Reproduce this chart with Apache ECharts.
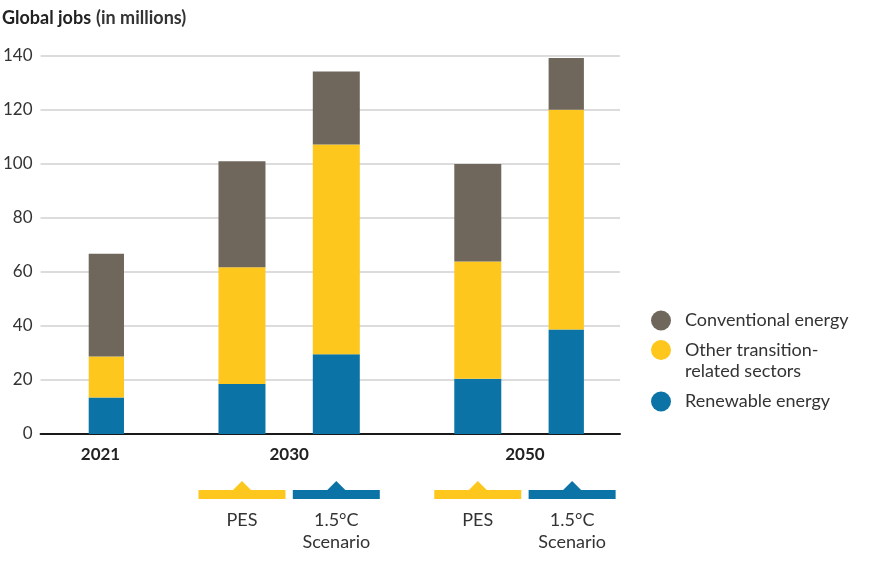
<!DOCTYPE html>
<html>
<head>
<meta charset="utf-8">
<script src="https://cdn.jsdelivr.net/npm/echarts@6/dist/echarts.min.js"></script>
<style>
  html, body { margin: 0; padding: 0; background: #fff; }
  #chart { width: 870px; height: 564px; }
</style>
</head>
<body>
<div id="chart"></div>
<script>
// values (millions of jobs)
const categories = ['2021', '2030 PES', '2030 1.5°C', '2050 PES', '2050 1.5°C'];
const renewable = [13.5, 18.5, 29.5, 20.5, 38.7];
const otherTransition = [15.2, 43.3, 77.7, 43.4, 81.4];
const conventional = [38.1, 39.2, 27.1, 36.1, 19.2];
const yearLabels = ['2021', '2030', '2050'];
const scenarioNames = ['PES', '1.5°C\nScenario'];
const seriesNames = ['Renewable energy', 'Other transition-related sectors', 'Conventional energy'];

// layout: 21 equal slots on the bar axis, bars sit in some of them
const SLOT_COUNT = 21;
const barSlot = [0, 6, 10, 16, 20];
const yearSlot = [0, 8, 18];
const scenarioOfBar = [-1, 0, 1, 0, 1];

const colors = {
  renewable: '#0b73a6',
  other: '#fdc71e',
  conventional: '#6f675c'
};
const FONT = 'Lato';

const slots = [];
for (let i = 0; i < SLOT_COUNT; i++) slots.push('s' + i);

function spread(values) {
  const out = new Array(SLOT_COUNT).fill('-');
  barSlot.forEach((s, i) => { out[s] = values[i]; });
  return out;
}

const scenarioMarks = [];
barSlot.forEach((s, i) => {
  if (scenarioOfBar[i] >= 0) scenarioMarks.push([s, scenarioOfBar[i]]);
});

const chart = echarts.init(document.getElementById('chart'));

// leading blank line keeps the circle level with the first text line
function legendFor(name, top) {
  return {
    orient: 'vertical',
    left: 651,
    top: top,
    padding: 0,
    itemWidth: 20,
    itemHeight: 20,
    icon: 'circle',
    selectedMode: false,
    data: [name],
    formatter: n => n === seriesNames[1] ? '\nOther transition-\nrelated sectors' : n,
    textStyle: {
      fontFamily: FONT, fontSize: 18, color: '#333', lineHeight: 21,
      padding: [0, 0, 0, 9]
    }
  };
}

chart.setOption({
  animation: false,
  title: {
    left: 2,
    top: 8,
    padding: 0,
    text: '{b|Global jobs} {r|(in millions)}',
    textStyle: {
      rich: {
        b: { fontFamily: FONT, fontSize: 18, fontWeight: 'bold', color: '#222', lineHeight: 20 },
        r: { fontFamily: FONT, fontSize: 18, color: '#333', lineHeight: 20 }
      }
    }
  },
  legend: [
    legendFor(seriesNames[2], 310),
    legendFor(seriesNames[1], 318.5),
    legendFor(seriesNames[0], 391)
  ],
  grid: [
    { left: 35, right: 250, top: 56, bottom: 130 },
    { left: 88.7, right: 286.1, top: 56, bottom: 130 }
  ],
  xAxis: [
    {
      gridIndex: 0, type: 'category', data: [''],
      axisLine: { lineStyle: { color: '#1a1a1a', width: 2 } },
      axisTick: { show: false }, axisLabel: { show: false }
    },
    {
      gridIndex: 1, type: 'category', data: slots,
      axisLine: { show: false }, axisTick: { show: false },
      axisLabel: {
        interval: 0,
        margin: 11,
        fontFamily: FONT, fontSize: 17, fontWeight: 'bold', color: '#222', lineHeight: 20,
        formatter: (v, idx) => {
          const k = yearSlot.indexOf(idx);
          return k >= 0 ? yearLabels[k] : '';
        }
      }
    }
  ],
  yAxis: [
    {
      gridIndex: 0, type: 'value', min: 0, max: 140, interval: 20,
      axisLine: { show: false }, axisTick: { show: false },
      axisLabel: { margin: 8, fontFamily: FONT, fontSize: 17, color: '#333' },
      splitLine: { lineStyle: { color: '#dcdcdc', width: 2 } }
    },
    { gridIndex: 1, type: 'value', min: 0, max: 140, show: false }
  ],
  series: [
    {
      name: seriesNames[0], type: 'bar', stack: 'jobs', xAxisIndex: 1, yAxisIndex: 1,
      barWidth: 47, itemStyle: { color: colors.renewable }, data: spread(renewable)
    },
    {
      name: seriesNames[1], type: 'bar', stack: 'jobs', xAxisIndex: 1, yAxisIndex: 1,
      barWidth: 47, itemStyle: { color: colors.other }, data: spread(otherTransition)
    },
    {
      name: seriesNames[2], type: 'bar', stack: 'jobs', xAxisIndex: 1, yAxisIndex: 1,
      barWidth: 47, itemStyle: { color: colors.conventional }, data: spread(conventional)
    },
    {
      // scenario markers under the 2030/2050 bars
      type: 'custom', xAxisIndex: 1, yAxisIndex: 1, clip: false, silent: true,
      data: scenarioMarks,
      renderItem: (params, api) => {
        const p = api.coord([api.value(0), 0]);
        const kind = api.value(1);
        const fill = kind === 0 ? colors.other : colors.renewable;
        const x = p[0], y = p[1];
        return {
          type: 'group',
          children: [
            { type: 'rect', shape: { x: x - 43.5, y: y + 56, width: 87, height: 9 }, style: { fill: fill } },
            { type: 'polygon', shape: { points: [[x - 9.5, y + 56.5], [x, y + 47], [x + 9.5, y + 56.5]] }, style: { fill: fill } },
            {
              type: 'text', x: x, y: y + 75,
              style: {
                text: scenarioNames[kind], align: 'center', verticalAlign: 'top',
                fontFamily: FONT, fontSize: 18, lineHeight: 22, fill: '#333'
              }
            }
          ]
        };
      }
    }
  ]
});
</script>
</body>
</html>
